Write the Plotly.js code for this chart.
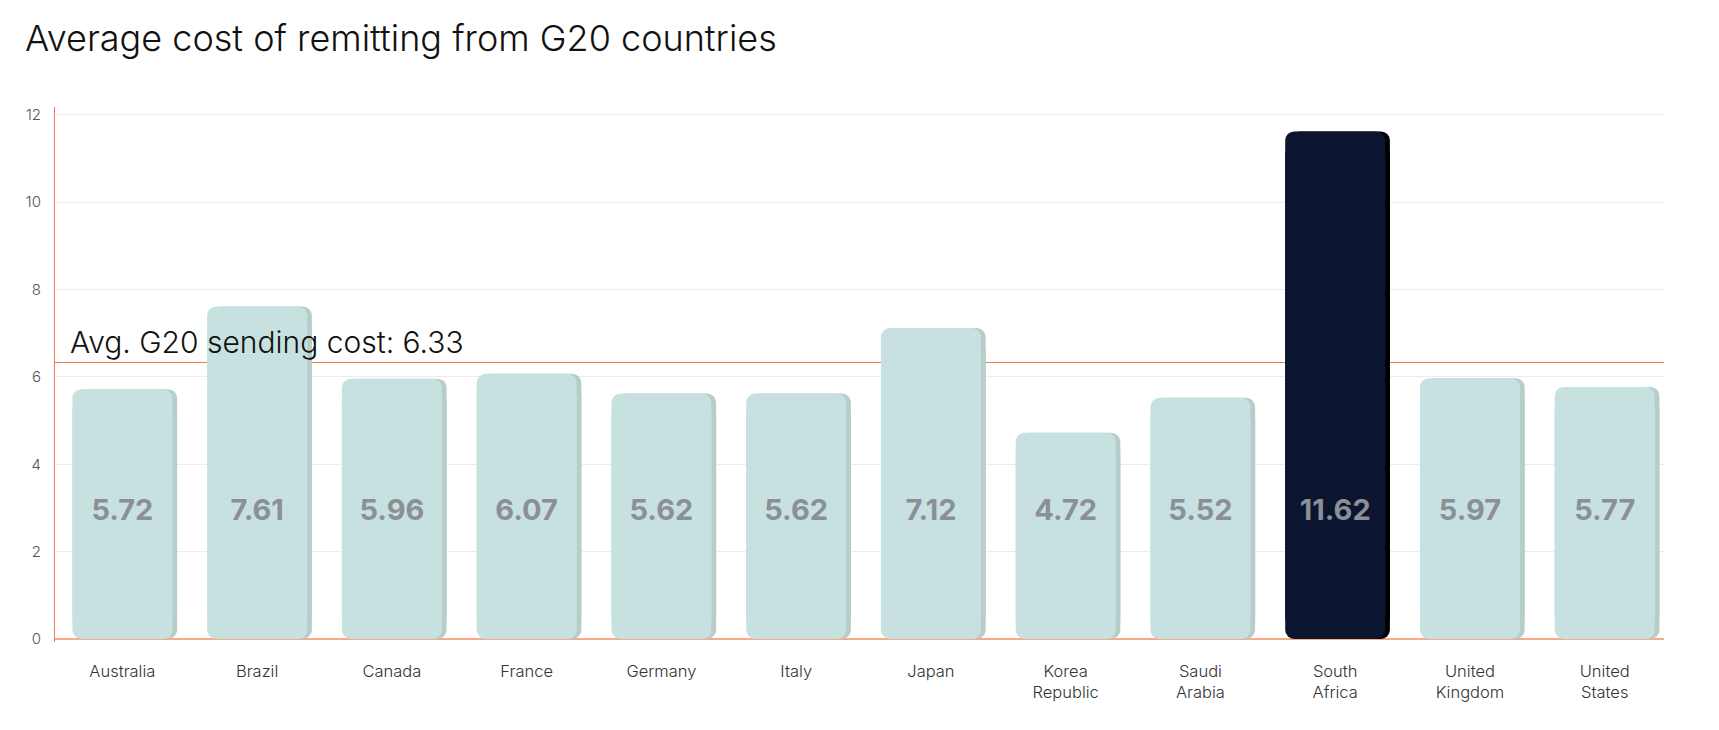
<!DOCTYPE html>
<html>
<head>
<meta charset="utf-8">
<script src="https://cdn.plot.ly/plotly-3.0.1.min.js"></script>
<style>
  html, body { margin: 0; padding: 0; background: #ffffff; }
  #chart { width: 1719px; height: 730px; }
</style>
</head>
<body>
<div id="chart"></div>
<script>
// datos del grafico
const countries = ["Australia", "Brazil", "Canada", "France", "Germany", "Italy",
  "Japan", "Korea<br>Republic", "Saudi<br>Arabia", "South<br>Africa",
  "United<br>Kingdom", "United<br>States"];
const costs = [5.72, 7.61, 5.96, 6.07, 5.62, 5.62, 7.12, 4.72, 5.52, 11.62, 5.97, 5.77];
const highlight = "South<br>Africa";
const avgCost = 6.33;
const yTicks = [0, 2, 4, 6, 8, 10, 12];

document.addEventListener("DOMContentLoaded", function () {
  const barColors = countries.map(c => c === highlight ? "#0b1530" : "#c6e1e0");
  const shadowColors = countries.map(c => c === highlight ? "#000000" : "#b6cdca");

  const barW = 0.742;
  const shift = 0.035;
  const cut = 0.3; // solape entre las dos piezas de cada barra

  // cada barra en dos piezas casi completas: una redondeada abajo, otra arriba
  function pieces(colors, offset) {
    return [
      {
        x: countries, y: costs.map(v => -(v - cut)), base: costs.map(v => v - cut),
        type: "bar", width: barW, offset: offset,
        marker: { color: colors, line: { width: 0 } },
        hoverinfo: "skip", showlegend: false
      },
      {
        x: countries, y: costs.map(v => v - cut), base: costs.map(() => cut),
        type: "bar", width: barW, offset: offset,
        marker: { color: colors, line: { width: 0 } },
        hoverinfo: "skip", showlegend: false
      }
    ];
  }

  const labels = {
    x: countries,
    y: costs.map(() => 2.88),
    text: costs.map(v => v.toFixed(2)),
    mode: "text",
    type: "scatter",
    textposition: "middle center",
    textfont: { family: "Inter", size: 29, weight: 700, color: "#8b8f96" },
    hoverinfo: "skip",
    showlegend: false
  };

  const data = [
    ...pieces(shadowColors, -barW / 2 + shift),
    ...pieces(barColors, -barW / 2),
    labels
  ];

  const layout = {
    width: 1719,
    height: 730,
    margin: { l: 55, r: 55, t: 107, b: 88 },
    paper_bgcolor: "#ffffff",
    plot_bgcolor: "#ffffff",
    font: { family: "Inter", color: "#333333" },
    barmode: "overlay",
    barcornerradius: 9,
    title: {
      text: "Average cost of remitting from G20 countries",
      font: { family: "Inter", size: 36, weight: 300, color: "#111111" },
      xref: "container", x: 0.0145, xanchor: "left",
      yref: "container", y: 0.948, yanchor: "middle"
    },
    xaxis: {
      type: "category",
      range: [-0.5, 11.44],
      showgrid: false,
      showline: false,
      zeroline: false,
      ticks: "outside",
      ticklen: 14,
      tickcolor: "rgba(0,0,0,0)",
      tickfont: { family: "Inter", size: 16.5, weight: 300, color: "#333333" }
    },
    yaxis: {
      range: [-0.07, 12.18],
      tickvals: yTicks,
      showgrid: true,
      gridcolor: "#ececec",
      gridwidth: 1,
      showline: true,
      linecolor: "#f07a4e",
      linewidth: 1,
      zeroline: true,
      zerolinecolor: "#f7a98a",
      zerolinewidth: 2,
      ticks: "outside",
      ticklen: 10,
      tickcolor: "rgba(0,0,0,0)",
      tickfont: { family: "Inter", size: 15, weight: 300, color: "#555555" }
    },
    shapes: [{
      type: "line", layer: "below",
      xref: "paper", x0: 0, x1: 1,
      yref: "y", y0: avgCost, y1: avgCost,
      line: { color: "#f07a4e", width: 1 }
    }],
    annotations: [{
      text: "Avg. G20 sending cost: " + avgCost,
      xref: "paper", x: 0.008, xanchor: "left",
      yref: "y", y: avgCost, yanchor: "bottom", yshift: 0,
      showarrow: false,
      font: { family: "Inter", size: 30, weight: 300, color: "#111111" }
    }]
  };

  Plotly.newPlot("chart", data, layout, { displayModeBar: false, responsive: false });
});
</script>
</body>
</html>
